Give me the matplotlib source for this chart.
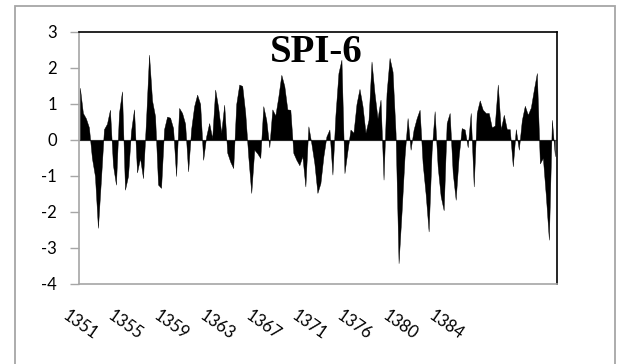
import numpy as np
import matplotlib
matplotlib.use("Agg")
import matplotlib.pyplot as plt
from matplotlib.patches import Rectangle

# SPI-6 values (roughly 3 months per sample)
spi_part1 = [1.45, 0.75, 0.6, 0.35, -0.5, -1.0, -2.44, -1.1, 0.3, 0.45,
             0.84, -0.7, -1.24, 0.75, 1.35, -1.38, -1.0, 0.24, 0.85, -0.9,
             -0.5, -1.06, 0.56, 2.37, 1.1, 0.66, -1.24, -1.33, 0.3, 0.65,
             0.62, 0.33, -1.0, 0.89, 0.75, 0.45, -0.87, 0.3, 0.94, 1.26]
spi_part2 = [1.0, -0.55, 0.1, 0.47, 0.05, 1.4, 0.9, 0.2, 0.98, -0.35,
             -0.6, -0.78, 1.0, 1.54, 1.5, 0.75, -0.45, -1.47, -0.27, -0.37,
             -0.5, 0.94, 0.55, -0.2, 0.85, 0.68, 1.2, 1.81, 1.5, 0.85,
             0.84, -0.36, -0.55, -0.7, -0.45, -1.29, 0.38, -0.1, -0.65, -1.47]
spi_part3 = [-1.2, -0.45, 0.1, 0.29, -0.96, 0.7, 1.86, 2.23, -0.92, -0.3,
             0.29, 0.2, 1.0, 1.42, 0.95, 0.2, 0.56, 2.18, 1.3, 0.6,
             1.12, -1.1, 1.3, 2.28, 1.9, 0.2, -3.42, -2.0, -0.45, 0.61,
             -0.27, 0.29, 0.6, 0.84, -0.64, -1.5, -2.54, -0.3, 0.8, -0.73]
spi_part4 = [-1.56, -1.95, 0.47, 0.75, -0.9, -1.66, -0.45, 0.33, 0.29, -0.2,
             0.75, -1.29, 0.75, 1.1, 0.84, 0.75, 0.75, 0.35, 0.4, 1.54,
             0.29, 0.7, 0.3, 0.3, -0.73, 0.3, -0.27, 0.55, 0.95, 0.7,
             0.9, 1.4, 1.86, -0.65, -0.5, -1.56, -2.77, 0.56, -0.45]
spi = np.array(spi_part1 + spi_part2 + spi_part3 + spi_part4)

year_labels = ["1351", "1355", "1359", "1363", "1367", "1371", "1376", "1380", "1384"]
y_ticks = [-4, -3, -2, -1, 0, 1, 2, 3]
title = "SPI-6"

W, H = 617, 364
fig = plt.figure(figsize=(W / 100, H / 100), dpi=100)
fig.patch.set_facecolor("white")

# outer chart frame
fig.patches.append(Rectangle((15 / W, -0.05), 600 / W, 1.05 - 6 / H,
                             transform=fig.transFigure, fill=False,
                             edgecolor="#a6a6a6", linewidth=1.3))

ax = fig.add_axes([79 / W, 1 - 284 / H, (557 - 79) / W, (284 - 32) / H])
x = np.arange(len(spi))
ax.fill_between(x, 0, spi, color="black", linewidth=0.3, edgecolor="black")
ax.axhline(0, color="#808080", linewidth=0.9, zorder=0.5)

step = 45.7 / 3.0
ax.set_xlim(-0.3, len(spi) - 1 + 0.7)
ax.set_ylim(-4, 3)
ax.set_yticks(y_ticks)
ax.set_yticklabels([str(v) for v in y_ticks], fontsize=12, family="Lato")
ax.set_xticks(np.arange(len(year_labels)) * step)
ax.set_xticklabels(year_labels, fontsize=12, family="Lato",
                   rotation=-35, ha="center", va="top")

ax.yaxis.set_tick_params(direction="out", length=6.5, width=1,
                         color="#a6a6a6", pad=9.5)
ax.xaxis.set_tick_params(length=0, pad=17)

for s in ("left", "bottom"):
    ax.spines[s].set_color("#a6a6a6")
    ax.spines[s].set_linewidth(1.2)
for s in ("top", "right"):
    ax.spines[s].set_color("black")
    ax.spines[s].set_linewidth(1.2)

fig.text(316 / W, 1 - 62 / H, title, ha="center", va="baseline",
         fontsize=28, fontweight="bold", family="Liberation Serif")

fig.savefig("out.png", dpi=100)
